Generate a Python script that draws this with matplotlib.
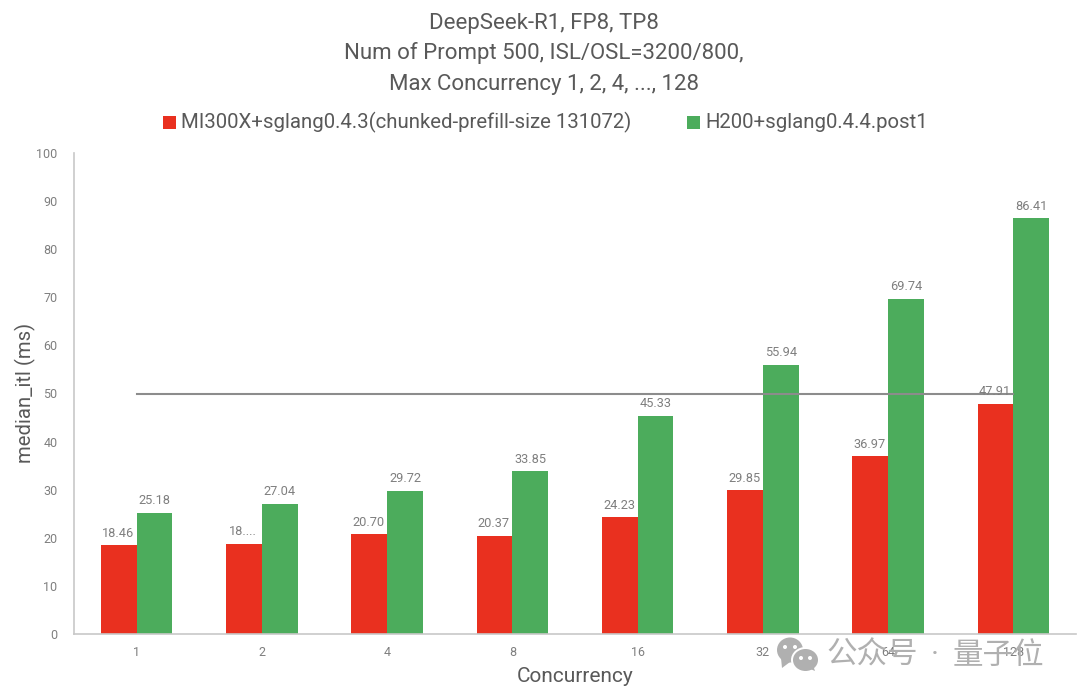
"""DeepSeek-R1 median_itl bar chart, MI300X vs H200."""
import matplotlib
matplotlib.use("Agg")
import matplotlib.pyplot as plt
import numpy as np
from matplotlib.patches import Ellipse, Polygon

categories = ["1", "2", "4", "8", "16", "32", "64", "128"]
mi300x = [18.46, 18.8, 20.70, 20.37, 24.23, 29.85, 36.97, 47.91]
h200 = [25.18, 27.04, 29.72, 33.85, 45.33, 55.94, 69.74, 86.41]
mi300x_labels = ["18.46", "18....", "20.70", "20.37", "24.23", "29.85", "36.97", "47.91"]
h200_labels = ["25.18", "27.04", "29.72", "33.85", "45.33", "55.94", "69.74", "86.41"]
threshold = [50] * 8
yticks = [0, 10, 20, 30, 40, 50, 60, 70, 80, 90, 100]

W, H = 1080, 700
RED, GREEN = "#e9301f", "#4cac5c"
TXT, TICK = "#595959", "#7f7f7f"

plt.rcParams["font.family"] = ["Roboto", "Noto Sans CJK SC", "DejaVu Sans"]
fig = plt.figure(figsize=(W / 100, H / 100), dpi=100)
ax = fig.add_axes([74 / W, 1 - 634 / H, (1076 - 74) / W, (634 - 153) / H])

x = np.arange(len(categories))
bw = 0.285
ax.bar(x - bw / 2, mi300x, bw, color=RED, zorder=2)
ax.bar(x + bw / 2, h200, bw, color=GREEN, zorder=2)
ax.plot(x, threshold, color="#8c8c8c", lw=1.5, zorder=3)

for i in range(len(x)):
    ax.annotate(mi300x_labels[i], (x[i] - bw / 2, mi300x[i]), xytext=(-0.5, 4),
                textcoords="offset points", ha="center", va="bottom", fontsize=9.2, color=TICK, zorder=4)
    ax.annotate(h200_labels[i], (x[i] + bw / 2, h200[i]), xytext=(0, 4),
                textcoords="offset points", ha="center", va="bottom", fontsize=9.2, color=TICK, zorder=4)

ax.set_xlim(-0.5, 7.5)
ax.set_ylim(0, 100)
ax.set_xticks(x, categories)
ax.set_yticks(yticks)
ax.tick_params(length=0, labelsize=9, labelcolor=TICK)
ax.tick_params(axis="x", pad=9)
ax.tick_params(axis="y", pad=12)
for s in ("top", "right"):
    ax.spines[s].set_visible(False)
for s in ("left", "bottom"):
    ax.spines[s].set_color("#c8c8c8")
    ax.spines[s].set_linewidth(1.2)

fig.text(575 / W, 1 - 677 / H, "Concurrency", ha="center", va="center", fontsize=15, color=TXT)
fig.text(25 / W, 1 - 393 / H, "median_itl (ms)", ha="center", va="center", rotation=90, fontsize=14.6, color=TXT)

for line, yp in zip(["DeepSeek-R1, FP8, TP8",
                     "Num of Prompt 500, ISL/OSL=3200/800,",
                     "Max Concurrency 1, 2, 4, ..., 128"], [23.5, 53.5, 84.5]):
    fig.text(544 / W, 1 - yp / H, line, ha="center", va="center", fontsize=16, color=TXT)

# 범례
ov = fig.add_axes([0, 0, 1, 1], zorder=10)
ov.set_xlim(0, W)
ov.set_ylim(H, 0)
ov.axis("off")
ov.patch.set_alpha(0)
ov.fill_between([163, 176], 116, 129, color=RED, lw=0)
ov.fill_between([687, 700], 116, 129, color=GREEN, lw=0)
ov.text(181, 122, "MI300X+sglang0.4.3(chunked-prefill-size 131072)", va="center", fontsize=14.65, color=TXT)
ov.text(705, 122, "H200+sglang0.4.4.post1", va="center", fontsize=14.65, color=TXT)

# 워터마크
GREY = "#b0b0b0"
ov.add_patch(Ellipse((790, 650), 26, 25, color=GREY, lw=0))
ov.add_patch(Polygon([(781, 658), (782, 668), (790, 662)], color=GREY, lw=0))
ov.add_patch(Ellipse((805.5, 660), 29, 26, color="white", lw=0))
ov.add_patch(Ellipse((805.5, 660), 25, 22, color=GREY, lw=0))
ov.add_patch(Polygon([(808, 668), (815, 671), (813, 665)], color=GREY, lw=0))
for cx, cy, c in [(785, 647, "white"), (795, 647, "white"), (801, 658, "white"), (810, 658, "white")]:
    ov.add_patch(Ellipse((cx, cy), 4, 4, color=c, lw=0))
ov.text(826, 655, "公众号", va="center", fontsize=22, color=GREY)
ov.text(935, 655, "·", va="center", ha="center", fontsize=22, color=GREY)
ov.text(953, 655, "量子位", va="center", fontsize=22, color=GREY)

fig.savefig("out.png", dpi=100)
